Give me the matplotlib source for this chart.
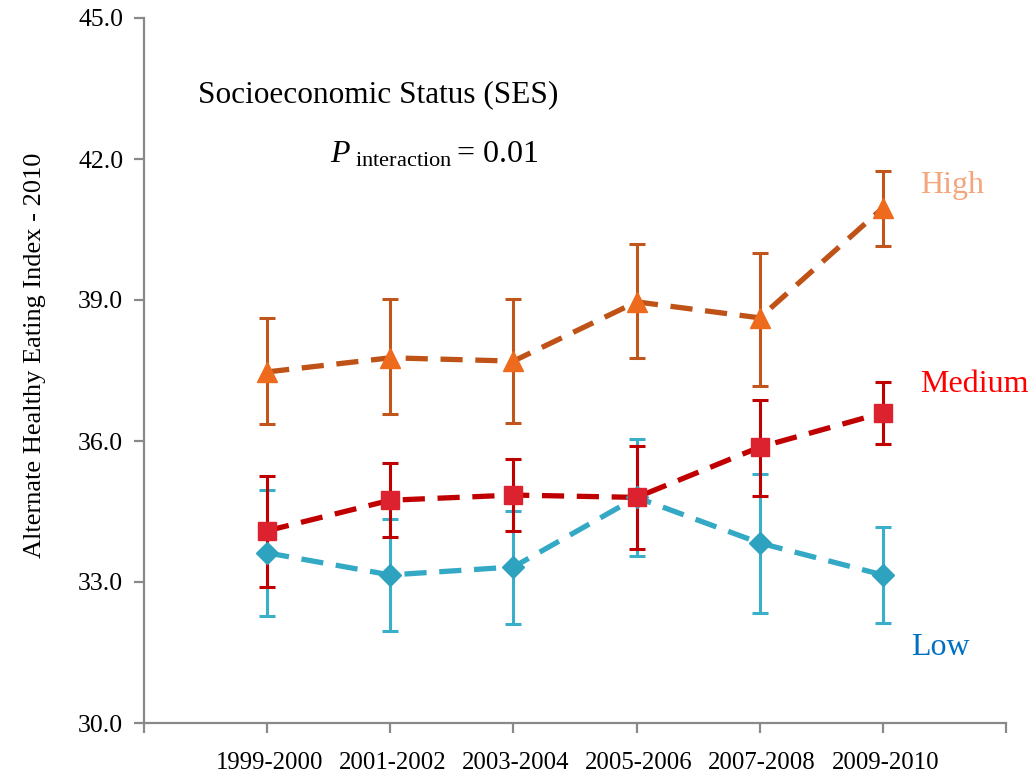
import matplotlib
matplotlib.use("Agg")
from matplotlib import pyplot as plt
import numpy as np

# periods (x categories)
periodos = ["1999-2000", "2001-2002", "2003-2004", "2005-2006", "2007-2008", "2009-2010"]

# AHEI-2010 by SES group: mean, lower and upper limit of the bars
high = [37.47, 37.77, 37.70, 38.96, 38.62, 40.96]
high_inf = [36.36, 36.57, 36.38, 37.77, 37.17, 40.15]
high_sup = [38.62, 39.02, 39.02, 40.19, 40.00, 41.74]

medium = [34.09, 34.74, 34.85, 34.80, 35.87, 36.60]
medium_inf = [32.89, 33.96, 34.09, 33.70, 34.83, 35.94]
medium_sup = [35.26, 35.53, 35.62, 35.89, 36.87, 37.26]

low = [33.62, 33.15, 33.32, 34.80, 33.83, 33.15]
low_inf = [32.28, 31.96, 32.11, 33.55, 32.34, 32.13]
low_sup = [34.96, 34.34, 34.51, 36.04, 35.30, 34.17]

yticks = [30.0, 33.0, 36.0, 39.0, 42.0, 45.0]

plt.rcParams["font.family"] = "Liberation Serif"
plt.rcParams["mathtext.fontset"] = "custom"
plt.rcParams["mathtext.rm"] = "Liberation Serif"
plt.rcParams["mathtext.it"] = "Liberation Serif:italic"

fig = plt.figure(figsize=(10.3, 7.75), dpi=100)
ax = fig.add_axes([144 / 1030, 1 - 723 / 775, (1006 - 144) / 1030, (723 - 18) / 775])

x = np.arange(1, len(periodos) + 1)

series = [
    (low, low_inf, low_sup, "#33A9C6", "#2EA3BF", "#3AAFCA", "D", 11),
    (medium, medium_inf, medium_sup, "#C00000", "#DC222E", "#C00000", "s", 13),
    (high, high_inf, high_sup, "#BF5317", "#EE6B1E", "#C0561C", "^", 15),
]

for val, inf, sup, cor_linha, cor_marca, cor_barra, marca, tam in series:
    val = np.array(val)
    err = [val - np.array(inf), np.array(sup) - val]
    ax.errorbar(x, val, yerr=err, fmt="none", ecolor=cor_barra, elinewidth=2.2,
                capsize=6, capthick=2.2, zorder=2)
    ax.plot(x, val, color=cor_linha, lw=3.8, dashes=(4.2, 2.4), zorder=3)
    ax.plot(x, val, ls="none", marker=marca, color=cor_marca, markersize=tam, zorder=4)

ax.set_xlim(0, 7)
ax.set_ylim(30, 45)
ax.set_yticks(yticks)
ax.set_yticklabels([f"{t:.1f}" for t in yticks], fontsize=18.5)
ax.set_xticks(np.arange(0, 8))
ax.set_xticklabels([])
for xi, p in zip(x, periodos):
    ax.text(xi + 0.02, 29.15, p, ha="center", va="center", fontsize=17.8, clip_on=False)

for lado in ["top", "right"]:
    ax.spines[lado].set_visible(False)
for lado in ["left", "bottom"]:
    ax.spines[lado].set_color("#898989")
    ax.spines[lado].set_linewidth(1.6)
ax.tick_params(axis="both", direction="out", length=7, width=1.6, color="#898989", pad=8)

ax.set_ylabel("Alternate Healthy Eating Index - 2010", fontsize=19)
ax.yaxis.set_label_coords(-0.114, 0.522)

ax.text(0.44, 43.36, "Socioeconomic Status (SES)", fontsize=22.5, va="center")
ax.text(1.51, 42.09, r"$P_{\mathrm{\ interaction}} = \,0.01$", fontsize=23, va="center")

ax.text(6.3, 41.43, "High", color="#F4A57B", fontsize=23, va="center")
ax.text(6.3, 37.21, "Medium", color="#FF0000", fontsize=23, va="center")
ax.text(6.23, 31.6, "Low", color="#0070C0", fontsize=23, va="center")

plt.savefig("out.png", dpi=100)
